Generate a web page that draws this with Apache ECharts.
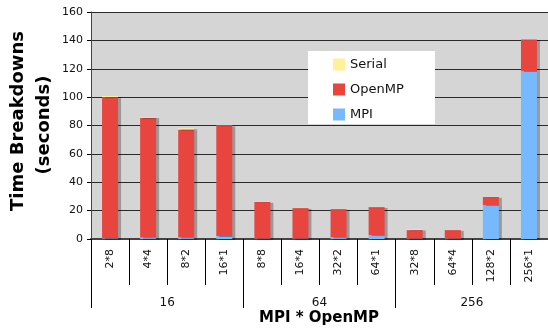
<!DOCTYPE html>
<html>
<head>
<meta charset="utf-8">
<script src="https://cdn.jsdelivr.net/npm/echarts@6/dist/echarts.min.js"></script>
<style>
html,body{margin:0;padding:0;background:#fff;}
#chart{width:548px;height:328px;}
</style>
</head>
<body>
<div id="chart"></div>
<script>
// Configurations: MPI processes * OpenMP threads, grouped by total cores
const configs = ['2*8','4*4','8*2','16*1','8*8','16*4','32*2','64*1','32*8','64*4','128*2','256*1'];
const coreGroups = ['16','64','256'];
const yTicks = [0, 20, 40, 60, 80, 100, 120, 140, 160];

// Time breakdowns in seconds
const mpiTime     = [0.5, 1.0, 1.0, 2.1, 0.3, 0.3, 1.2, 2.8, 0.3, 0.3, 24.0, 118.4];
const openmpTime  = [99.5, 84.4, 76.2, 77.7, 25.8, 21.5, 19.9, 19.7, 6.0, 6.0, 5.6, 22.3];
const serialTime  = [0.8, 0.5, 0.8, 0.2, 0.1, 0.1, 0.1, 0.1, 0.4, 0.1, 0.1, 0.1];

const FONT = 'DejaVu Sans';
const chart = echarts.init(document.getElementById('chart'));

const barShadow = {
  shadowColor: 'rgba(0,0,0,0.28)',
  shadowOffsetX: 3,
  shadowOffsetY: 1,
  shadowBlur: 0
};

function barSeries(name, data, color) {
  return {
    name: name,
    type: 'bar',
    stack: 'time',
    barWidth: 16,
    data: data,
    itemStyle: Object.assign({ color: color }, barShadow)
  };
}

const titleFont = 'bold 18px "DejaVu Sans"';

chart.setOption({
  animation: false,
  textStyle: { fontFamily: FONT },
  grid: {
    left: 91, right: 0, top: 12, bottom: 89,
    containLabel: false,
    outerBoundsMode: 'none',
    show: true, backgroundColor: '#d5d5d5', borderWidth: 0
  },
  legend: {
    orient: 'vertical',
    left: 333, top: 58, z: 20,
    icon: 'rect',
    itemWidth: 12, itemHeight: 12, itemGap: 12,
    padding: 0,
    data: ['Serial', 'OpenMP', 'MPI'],
    textStyle: { fontFamily: FONT, fontSize: 13, color: '#111' }
  },
  graphic: [
    { type: 'rect', x: 308, y: 51, z: 1, shape: { width: 127, height: 73 }, style: { fill: '#fff' } },
    { type: 'text', x: 319, y: 318, z: 10,
      style: { text: 'MPI * OpenMP', font: 'bold 15px "DejaVu Sans"', fill: '#000', align: 'center', verticalAlign: 'middle' } },
    // vertical axis title, two lines
    { type: 'text', x: 18, y: 121, rotation: Math.PI / 2, z: 10,
      style: { text: 'Time Breakdowns', font: titleFont, fill: '#000', align: 'center', verticalAlign: 'middle' } },
    { type: 'text', x: 44, y: 125, rotation: Math.PI / 2, z: 10,
      style: { text: '(seconds)', font: titleFont, fill: '#000', align: 'center', verticalAlign: 'middle' } }
  ],
  xAxis: [
    {
      type: 'category',
      data: configs,
      position: 'bottom',
      axisLine: { lineStyle: { color: '#444', width: 2 } },
      axisTick: { show: true, length: 46, lineStyle: { color: '#000' } },
      axisLabel: { rotate: 90, margin: 10, fontSize: 11, color: '#111', fontFamily: FONT, interval: 0 }
    },
    {
      type: 'category',
      data: coreGroups,
      position: 'bottom',
      axisLine: { show: false },
      axisTick: { show: true, length: 69, lineStyle: { color: '#000' } },
      axisLabel: { margin: 58, fontSize: 12, color: '#111', fontFamily: FONT, interval: 0 },
      splitLine: { show: false }
    }
  ],
  yAxis: {
    type: 'value',
    min: yTicks[0], max: yTicks[yTicks.length - 1], interval: 20,
    axisLine: { show: true, lineStyle: { color: '#444', width: 1 } },
    axisTick: { show: true, length: 4, inside: false, lineStyle: { color: '#000' } },
    axisLabel: { fontSize: 11, color: '#111', fontFamily: FONT, margin: 8 },
    splitLine: { lineStyle: { color: '#2a2a2a', width: 1 } }
  },
  series: [
    barSeries('MPI', mpiTime, '#77b9ff'),
    barSeries('OpenMP', openmpTime, '#e8453f'),
    barSeries('Serial', serialTime, '#fff199')
  ]
});
</script>
</body>
</html>
